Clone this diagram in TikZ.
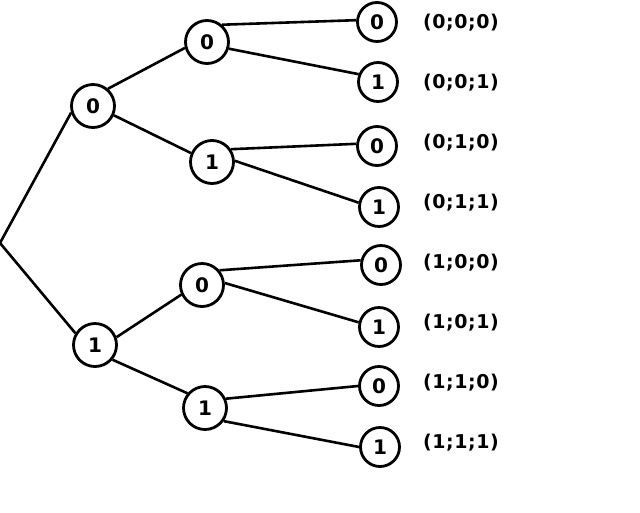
\documentclass[tikz,border=0pt]{standalone}
\usepackage{fontspec}
\setmainfont{DejaVu Sans}
\newfontfamily\labfont[LetterSpace=3]{DejaVu Sans}
\begin{document}
\begin{tikzpicture}[x=1pt,y=-1pt,
  nd/.style={draw,circle,line width=2.8pt,minimum size=43pt,inner sep=0pt,font=\fontsize{20}{20}\bfseries},
  lf/.style={draw,circle,line width=2.8pt,minimum size=39pt,inner sep=0pt,font=\fontsize{20}{20}\bfseries},
  lab/.style={font=\labfont\fontsize{19}{19}\bfseries,inner sep=0pt},
  ed/.style={line width=2.6pt}]
\useasboundingbox (0,0) rectangle (640,512);
\coordinate (r) at (0,243);
\node[nd] (a0) at (93,106) {0};
\node[nd] (a1) at (95,345) {1};
\node[nd] (b00) at (207,42) {0};
\node[nd] (b01) at (212,162) {1};
\node[nd] (b10) at (202,285) {0};
\node[nd] (b11) at (205,408) {1};
\node[lf] (c000) at (377,22) {0};
\node[lf] (c001) at (378,82) {1};
\node[lf] (c010) at (377,146) {0};
\node[lf] (c011) at (379,207) {1};
\node[lf] (c100) at (381,265) {0};
\node[lf] (c101) at (379,327) {1};
\node[lf] (c110) at (379,386) {0};
\node[lf] (c111) at (380,447) {1};
\node[lab] (l000) at (461,23) {(0;0;0)};
\node[lab] (l001) at (461,83) {(0;0;1)};
\node[lab] (l010) at (461,143) {(0;1;0)};
\node[lab] (l011) at (461,203) {(0;1;1)};
\node[lab] (l100) at (461,263) {(1;0;0)};
\node[lab] (l101) at (461,323) {(1;0;1)};
\node[lab] (l110) at (461,383) {(1;1;0)};
\node[lab] (l111) at (461,443) {(1;1;1)};
\draw[ed] (r) -- (a0.197);
\draw[ed] (r) -- (a1.149);
\draw[ed] (a0.49) -- (b00.195);
\draw[ed] (a0.-24) -- (b01.157);
\draw[ed] (a1.20) -- (b10.205);
\draw[ed] (a1.-40) -- (b11.140);
\draw[ed] (b00.49) -- (c000.175);
\draw[ed] (b00.-17) -- (c001.158);
\draw[ed] (b01.34) -- (c010.174);
\draw[ed] (b01.3) -- (c011.168);
\draw[ed] (b10.40) -- (c100.167);
\draw[ed] (b10.5) -- (c101.167);
\draw[ed] (b11.24) -- (c110.180);
\draw[ed] (b11.-35) -- (c111.180);
\end{tikzpicture}
\end{document}
